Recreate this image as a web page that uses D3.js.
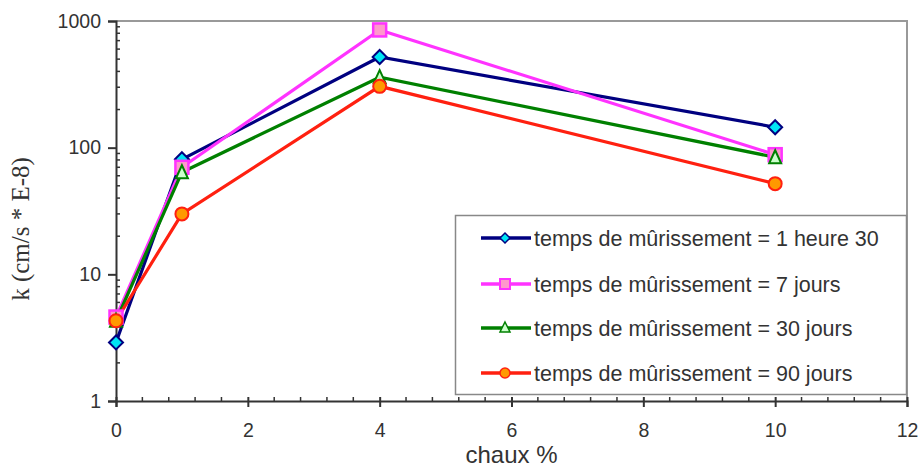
<!DOCTYPE html>
<html><head><meta charset="utf-8">
<script src="https://cdn.jsdelivr.net/npm/d3@7"></script>
<style>body{margin:0;background:#fff}svg{display:block}</style>
</head><body>
<script>
const chaux = [0, 1, 4, 10];
const heure30 = [2.9, 81, 520, 145];
const jours7 = [4.6, 70, 850, 88];
const jours30 = [4.3, 64, 360, 84];
const jours90 = [4.3, 30, 305, 52];
const seriesNames = ["temps de mûrissement = 1 heure 30","temps de mûrissement = 7 jours","temps de mûrissement = 30 jours","temps de mûrissement = 90 jours"];
const xTicks = [0, 2, 4, 6, 8, 10, 12];
const yTicks = [1, 10, 100, 1000];

const W = 924, H = 468;
const m = {l:116, r:17, t:21, b:67};
const svg = d3.select("body").append("svg").attr("width", W).attr("height", H);
const x = d3.scaleLinear().domain([0, 12]).range([m.l, W - m.r]);
const y = d3.scaleLog().domain([1, 1000]).range([H - m.b, m.t]);

const font = "Liberation Sans, Arial, sans-serif";
svg.append("path").attr("d", `M${x(0)},${y(1000)}H${x(12)}V${y(1)}`).attr("fill","none").attr("stroke","#999").attr("stroke-width",2);

const yMinor = [];
for (let d = 1; d < 1000; d *= 10) for (let k = 2; k <= 9; k++) yMinor.push(d * k);
svg.append("g").selectAll("line").data(yMinor).join("line")
  .attr("x1", x(0)).attr("x2", x(0) + 4).attr("y1", d => y(d)).attr("y2", d => y(d))
  .attr("stroke", "#333").attr("stroke-width", 1.5);
const xMinor = d3.range(0, 12.01, 0.4).map(v => +v.toFixed(2)).filter(v => Math.abs(v/2 - Math.round(v/2)) > 1e-6);
svg.append("g").selectAll("line").data(xMinor).join("line")
  .attr("x1", d => x(d)).attr("x2", d => x(d)).attr("y1", y(1)).attr("y2", y(1) - 4)
  .attr("stroke", "#333").attr("stroke-width", 1.5);

const yAxis = svg.append("g").attr("transform", `translate(${x(0)},0)`)
  .call(d3.axisLeft(y).tickValues(yTicks).tickFormat(d3.format("d")).tickSize(8).tickPadding(7));
const xAxis = svg.append("g").attr("transform", `translate(0,${y(1)})`)
  .call(d3.axisBottom(x).tickValues(xTicks).tickFormat(d3.format("d")).tickSize(6).tickPadding(16));
[yAxis, xAxis].forEach(g => {
  g.select(".domain").attr("stroke", "#333").attr("stroke-width", 2);
  g.selectAll(".tick line").attr("stroke", "#333").attr("stroke-width", 2);
  g.selectAll("text").attr("font-family", font).attr("font-size", 19.5).attr("fill", "#333");
});
xAxis.selectAll(".tick line").attr("y1", -4);

svg.append("text").attr("x", x(6)).attr("y", 463).attr("text-anchor","middle")
  .attr("font-family", font).attr("font-size", 24).attr("fill","#333").text("chaux %");
svg.append("text").attr("transform", "translate(29,229) rotate(-90)").attr("text-anchor","middle")
  .attr("font-family", "Liberation Serif, Times New Roman, serif").attr("font-size", 25).attr("fill","#333")
  .text("k (cm/s * E-8)");

const styles = [
  {vals: heure30, line:"#000080", fill:"#00e5f5", stroke:"#000080", sym:"diamond"},
  {vals: jours7, line:"#ff33ff", fill:"#ff99cc", stroke:"#ff33ff", sym:"square"},
  {vals: jours30, line:"#008000", fill:"#ccffcc", stroke:"#008000", sym:"triangle"},
  {vals: jours90, line:"#ff2010", fill:"#ff9900", stroke:"#ff2010", sym:"circle"}
];
function marker(g, s, cx, cy) {
  if (s.sym === "diamond") {
    g.append("path").attr("d", `M${cx},${cy-7}L${cx+7},${cy}L${cx},${cy+7}L${cx-7},${cy}Z`)
      .attr("fill", s.fill).attr("stroke", s.stroke).attr("stroke-width", 2);
  } else if (s.sym === "square") {
    g.append("rect").attr("x", cx-6.5).attr("y", cy-6.5).attr("width", 13).attr("height", 13)
      .attr("fill", s.fill).attr("stroke", s.stroke).attr("stroke-width", 2.5);
  } else if (s.sym === "triangle") {
    g.append("path").attr("d", `M${cx},${cy-7}L${cx+6},${cy+6}L${cx-6},${cy+6}Z`)
      .attr("fill", s.fill).attr("stroke", s.stroke).attr("stroke-width", 2);
  } else {
    g.append("circle").attr("cx", cx).attr("cy", cy).attr("r", 6.5)
      .attr("fill", s.fill).attr("stroke", s.stroke).attr("stroke-width", 2);
  }
}
const line = d3.line().x((d,i) => x(chaux[i])).y(d => y(d));
styles.forEach(s => {
  svg.append("path").attr("d", line(s.vals)).attr("fill","none").attr("stroke", s.line).attr("stroke-width", 3.2);
});
styles.forEach(s => {
  const g = svg.append("g");
  s.vals.forEach((v,i) => marker(g, s, x(chaux[i]), y(v)));
});

const lg = svg.append("g");
lg.append("rect").attr("x", 455.5).attr("y", 215.5).attr("width", 451).attr("height", 179)
  .attr("fill","#fff").attr("stroke","#888").attr("stroke-width",1.5);
const rowsY = [238, 284, 328, 373];
styles.forEach((s,i) => {
  const yy = rowsY[i];
  lg.append("line").attr("x1", 481).attr("x2", 531).attr("y1", yy).attr("y2", yy).attr("stroke", s.line).attr("stroke-width", 3.5);
  const g = lg.append("g");
  if (s.sym === "diamond") g.append("path").attr("d", `M505,${yy-5}L510,${yy}L505,${yy+5}L500,${yy}Z`).attr("fill", s.fill).attr("stroke", s.stroke).attr("stroke-width",1.5);
  else if (s.sym === "square") g.append("rect").attr("x",500).attr("y",yy-5).attr("width",10).attr("height",10).attr("fill", s.fill).attr("stroke", s.stroke).attr("stroke-width",2);
  else if (s.sym === "triangle") g.append("path").attr("d", `M505,${yy-6}L510,${yy+4}L500,${yy+4}Z`).attr("fill", s.fill).attr("stroke", s.stroke).attr("stroke-width",1.5);
  else g.append("circle").attr("cx",505).attr("cy",yy).attr("r",5).attr("fill", s.fill).attr("stroke", s.stroke).attr("stroke-width",1.5);
  lg.append("text").attr("x", 534).attr("y", yy).attr("dy","0.35em")
    .attr("font-family", font).attr("font-size", 21.5).attr("fill","#333").text(seriesNames[i]);
});
</script>
</body></html>
